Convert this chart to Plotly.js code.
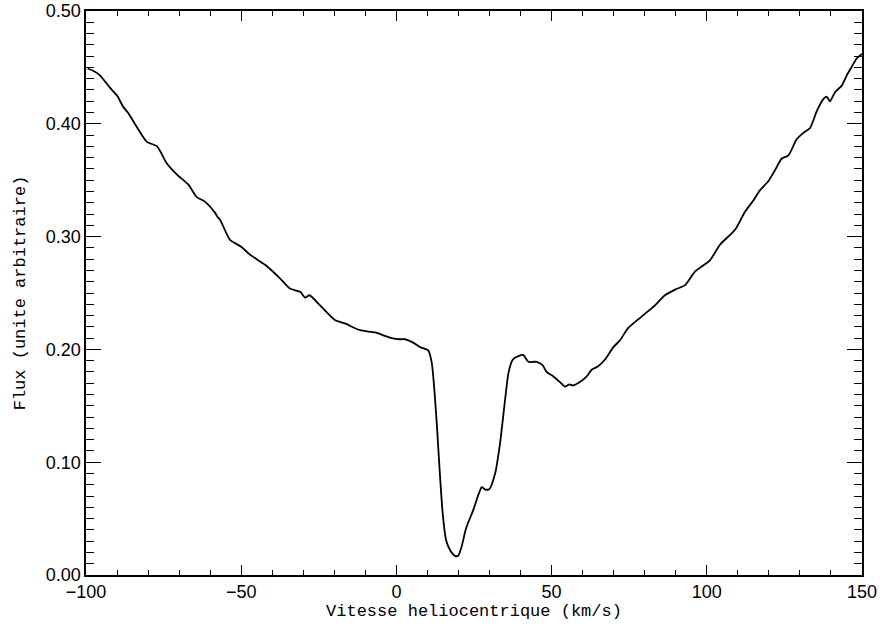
<!DOCTYPE html>
<html>
<head>
<meta charset="utf-8">
<script src="https://cdn.plot.ly/plotly-3.0.1.min.js"></script>
<style>body{margin:0;background:#fff}#chart{width:880px;height:630px}</style>
</head>
<body>
<div id="chart"></div>
<script>
const velocity = [
  -99.5, -97.7, -95.5, -92.3, -90.0, -88.0, -86.5, -83.6, -80.4, -77.1, -74.0, -70.7, -67.0, -64.3,
  -61.7, -58.4, -57.5, -56.8, -53.6, -50.0, -47.2, -42.3, -37.5, -34.3, -31.0, -29.4, -28.0, -24.6,
  -19.8, -16.6, -11.7, -6.9, -3.7, -1.5, 1.2, 2.8, 5.4, 7.6, 10.3, 11.4, 12.4, 13.2, 14.0, 14.9,
  16.0, 17.3, 18.9, 19.9, 21.0, 22.4, 24.8, 26.4, 27.5, 28.5, 29.9, 31.8, 33.4, 35.0, 36.1, 37.5,
  39.3, 40.9, 42.5, 45.2, 47.1, 48.4, 50.6, 52.7, 54.3, 55.7, 56.8, 59.1, 61.3, 62.9, 65.0, 67.2,
  69.9, 72.0, 74.7, 78.5, 83.3, 86.5, 89.8, 93.0, 96.2, 101.0, 104.3, 109.1, 112.3, 115.0, 117.1,
  119.8, 122.0, 124.1, 126.3, 128.9, 131.1, 133.2, 135.4, 137.3, 138.6, 139.7, 141.3, 143.5, 145.1,
  147.0, 148.3, 150.0
];
const flux = [
  0.449, 0.447, 0.443, 0.432, 0.425, 0.415, 0.410, 0.397, 0.384, 0.380, 0.365, 0.355, 0.346, 0.335,
  0.331, 0.321, 0.317, 0.315, 0.297, 0.291, 0.284, 0.275, 0.263, 0.254, 0.251, 0.246, 0.248, 0.239,
  0.226, 0.223, 0.217, 0.215, 0.212, 0.210, 0.209, 0.209, 0.206, 0.202, 0.199, 0.188, 0.158, 0.126,
  0.090, 0.055, 0.031, 0.022, 0.017, 0.017, 0.025, 0.041, 0.058, 0.071, 0.078, 0.076, 0.076, 0.090,
  0.117, 0.155, 0.179, 0.191, 0.194, 0.195, 0.189, 0.189, 0.186, 0.180, 0.176, 0.171, 0.167, 0.169,
  0.168, 0.171, 0.176, 0.182, 0.185, 0.191, 0.202, 0.208, 0.219, 0.228, 0.239, 0.248, 0.253, 0.257,
  0.269, 0.279, 0.293, 0.306, 0.322, 0.332, 0.341, 0.349, 0.359, 0.369, 0.372, 0.386, 0.392, 0.396,
  0.411, 0.421, 0.424, 0.420, 0.428, 0.434, 0.443, 0.452, 0.458, 0.462
];
const xTickVals = [-100, -50, 0, 50, 100, 150];
const xTickText = ['\u2212100', '\u221250', '0', '50', '100', '150'];
const yTickVals = [0, 0.1, 0.2, 0.3, 0.4, 0.5];
const yTickText = ['0.00', '0.10', '0.20', '0.30', '0.40', '0.50'];

const trace = {
  x: velocity, y: flux, type: 'scatter', mode: 'lines',
  line: {color: '#000', width: 1.8, shape: 'spline', smoothing: 0.6},
  hoverinfo: 'none'
};
const layout = {
  width: 880, height: 630,
  margin: {l: 86, r: 18, t: 11, b: 55},
  paper_bgcolor: '#fff', plot_bgcolor: '#fff',
  showlegend: false,
  font: {family: 'Liberation Sans, Arial, sans-serif', color: '#000', size: 17},
  xaxis: {
    range: [-100, 150], tickvals: xTickVals, ticktext: xTickText,
    ticks: 'inside', ticklen: 10, tickwidth: 1.3, tickcolor: '#000',
    minor: {dtick: 10, ticks: 'inside', ticklen: 5, tickwidth: 1, tickcolor: '#000', showgrid: false},
    showline: true, linecolor: '#000', linewidth: 1.6, mirror: 'allticks',
    showgrid: false, zeroline: false,
    tickfont: {size: 18, family: 'Liberation Sans, Arial, sans-serif'},
    title: {text: 'Vitesse heliocentrique (km/s)', standoff: 3,
            font: {family: 'Liberation Mono, DejaVu Sans Mono, monospace', size: 17}}
  },
  yaxis: {
    range: [0, 0.5], tickvals: yTickVals, ticktext: yTickText,
    ticks: 'inside', ticklen: 15, tickwidth: 1.3, tickcolor: '#000',
    minor: {dtick: 0.01, ticks: 'inside', ticklen: 8, tickwidth: 1, tickcolor: '#000', showgrid: false},
    showline: true, linecolor: '#000', linewidth: 1.6, mirror: 'allticks',
    showgrid: false, zeroline: false,
    tickfont: {size: 18, family: 'Liberation Sans, Arial, sans-serif'},
    title: {text: 'Flux (unite arbitraire)', standoff: 16,
            font: {family: 'Liberation Mono, DejaVu Sans Mono, monospace', size: 17}}
  }
};
Plotly.newPlot('chart', [trace], layout, {staticPlot: true, displayModeBar: false});
</script>
</body>
</html>
